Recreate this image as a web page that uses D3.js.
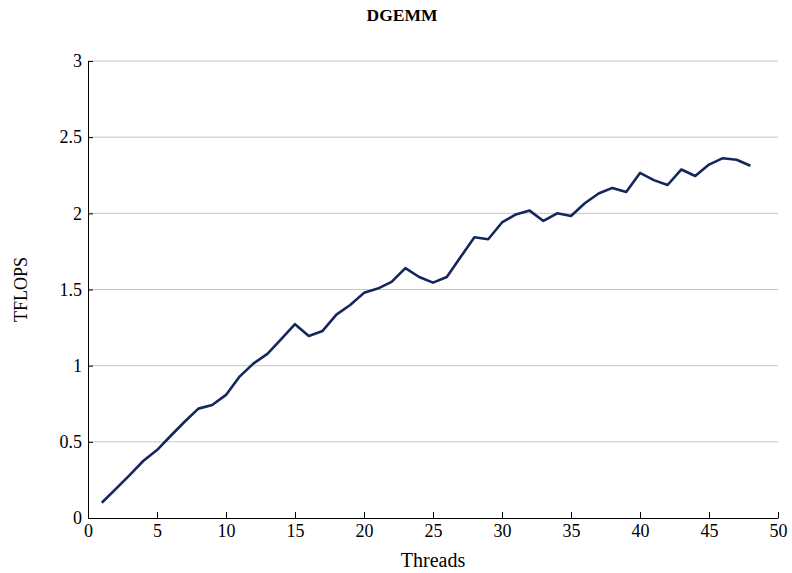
<!DOCTYPE html>
<html>
<head>
<meta charset="utf-8">
<script src="https://cdn.jsdelivr.net/npm/d3@7"></script>
<style>
  html, body { margin: 0; padding: 0; background: #fff; }
  svg text { font-family: "Liberation Serif", "DejaVu Serif", serif; fill: #000; }
</style>
</head>
<body>
<svg id="chart" width="792" height="573"></svg>
<script>
// DGEMM throughput per thread count
const threads = [1,2,3,4,5,6,7,8,9,10,11,12,13,14,15,16,17,18,19,20,21,22,23,24,
                 25,26,27,28,29,30,31,32,33,34,35,36,37,38,39,40,41,42,43,44,45,46,47,48];
const tflops = [0.10,0.19,0.28,0.374,0.446,0.54,0.632,0.718,0.742,0.808,0.93,1.015,
                1.077,1.175,1.272,1.195,1.228,1.335,1.398,1.478,1.506,1.55,1.64,1.582,
                1.545,1.582,1.713,1.843,1.83,1.94,1.993,2.018,1.95,2.0,1.983,2.066,
                2.13,2.167,2.14,2.265,2.218,2.186,2.288,2.245,2.32,2.362,2.352,2.312];
const xTicks = [0,5,10,15,20,25,30,35,40,45,50];
const yTicks = [0,0.5,1,1.5,2,2.5,3];
const yTickLabels = ["0","0.5","1","1.5","2","2.5","3"];

const svg = d3.select("#chart");
const m = { left: 88, right: 14, top: 61, bottom: 55 };
const W = 792, H = 573;

const x = d3.scaleLinear().domain([0, 50]).range([m.left, W - m.right]);
const y = d3.scaleLinear().domain([0, 3]).range([H - m.bottom, m.top]);

// horizontal grid
svg.append("g")
  .selectAll("line")
  .data(yTicks.filter(d => d > 0))
  .join("line")
  .attr("x1", x(0)).attr("x2", x(50))
  .attr("y1", d => y(d)).attr("y2", d => y(d))
  .attr("stroke", "#c4c4c4").attr("stroke-width", 1);

// x axis (ticks pointing into the plot)
const gx = svg.append("g")
  .attr("transform", `translate(0,${y(0)})`)
  .call(d3.axisBottom(x).tickValues(xTicks).tickSizeInner(-6).tickSizeOuter(0).tickPadding(6));
gx.select(".domain").attr("stroke", "#000").attr("stroke-width", 1);
gx.selectAll(".tick line").attr("stroke", "#000");
gx.selectAll(".tick text").attr("font-size", 18).attr("dy", "0.71em");

// y axis (ticks pointing into the plot)
const gy = svg.append("g")
  .attr("transform", `translate(${x(0)},0)`)
  .call(d3.axisLeft(y).tickValues(yTicks)
    .tickFormat((d, i) => yTickLabels[i])
    .tickSizeInner(-5).tickSizeOuter(0).tickPadding(6));
gy.select(".domain").attr("stroke", "#000").attr("stroke-width", 1);
gy.selectAll(".tick line").attr("stroke", "#000");
gy.selectAll(".tick text").attr("font-size", 18);

// data line
const line = d3.line().x((d, i) => x(threads[i])).y(d => y(d));
svg.append("path")
  .datum(tflops)
  .attr("d", line)
  .attr("fill", "none")
  .attr("stroke", "#14275a")
  .attr("stroke-width", 2.6)
  .attr("stroke-linejoin", "round");

// title and axis labels
svg.append("text")
  .attr("x", 402).attr("y", 21)
  .attr("text-anchor", "middle")
  .attr("font-size", 17.5).attr("font-weight", "bold")
  .text("DGEMM");

svg.append("text")
  .attr("x", (x(0) + x(50)) / 2).attr("y", 567)
  .attr("text-anchor", "middle")
  .attr("font-size", 20)
  .text("Threads");

svg.append("text")
  .attr("transform", `translate(27,${(y(0) + y(3)) / 2}) rotate(-90)`)
  .attr("text-anchor", "middle")
  .attr("font-size", 18)
  .text("TFLOPS");
</script>
</body>
</html>
